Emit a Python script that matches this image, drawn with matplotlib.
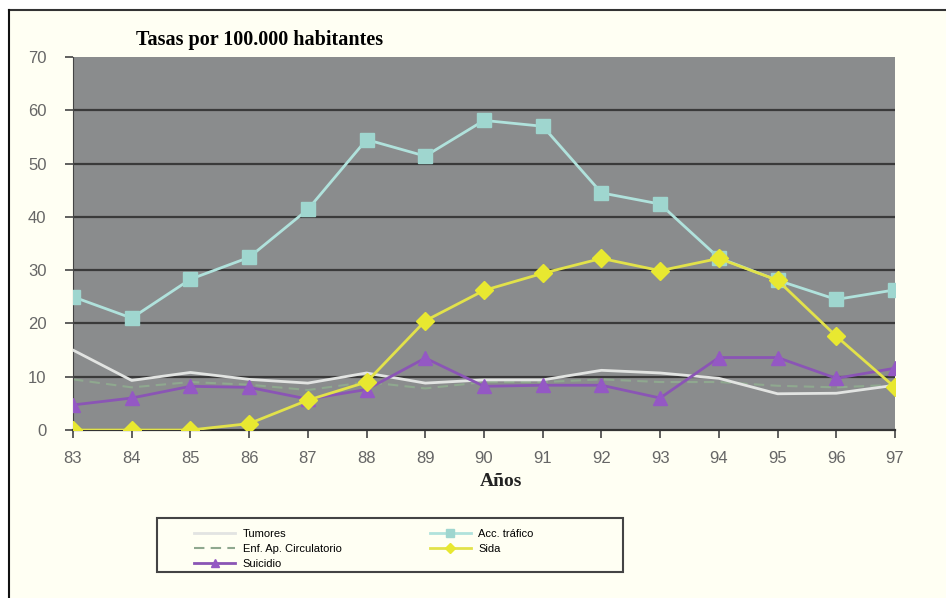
#!/usr/bin/env python3
"""Tasas por 100.000 habitantes, 1983-1997"""

import matplotlib
matplotlib.use("Agg")
import matplotlib.pyplot as plt
from matplotlib.patches import Rectangle
from matplotlib.lines import Line2D

# Data
years = [83, 84, 85, 86, 87, 88, 89, 90, 91, 92, 93, 94, 95, 96, 97]
year_labels = [str(y) for y in years]
tumores = [15, 9.3, 10.8, 9.5, 8.8, 10.7, 8.8, 9.4, 9.4, 11.2, 10.7, 9.7, 6.8, 6.9, 8.4]
enf_circ = [9.5, 8.0, 9.0, 8.5, 7.5, 9.0, 7.8, 9.0, 9.0, 9.5, 9.0, 9.0, 8.3, 8.0, 8.5]
suicidio = [4.7, 6.0, 8.2, 8.0, 5.8, 7.6, 13.5, 8.2, 8.4, 8.4, 6.0, 13.6, 13.6, 9.7, 11.6]
acc_trafico = [25, 21, 28.3, 32.4, 41.4, 54.5, 51.4, 58.1, 57.0, 44.5, 42.4, 32.3, 28.1, 24.5, 26.3]
sida = [0, 0, 0, 1.2, 5.6, 9.0, 20.5, 26.2, 29.4, 32.2, 29.9, 32.2, 28.1, 17.6, 8.0]
y_ticks = [0, 10, 20, 30, 40, 50, 60, 70]

W, H = 946, 598
fig = plt.figure(figsize=(W / 100, H / 100), dpi=100)
fig.patch.set_facecolor("white")

# cream page with frame lines on top and left
fig.patches.append(Rectangle((9 / W, 0), 1 - 9 / W, 1 - 10 / H, transform=fig.transFigure,
                             facecolor="#fffff3", edgecolor="none", zorder=-5))
fig.lines.append(Line2D([9 / W, 1], [1 - 10 / H, 1 - 10 / H], transform=fig.transFigure,
                        color="#333333", lw=1.5, zorder=-4))
fig.lines.append(Line2D([9 / W, 9 / W], [0, 1 - 10 / H], transform=fig.transFigure,
                        color="#111111", lw=1.5, zorder=-4))
# legend frame
fig.patches.append(Rectangle((157 / W, 1 - 572 / H), 466 / W, 54 / H, transform=fig.transFigure,
                             facecolor="none", edgecolor="#444444", lw=1.5, zorder=-3))

ax = fig.add_axes([73 / W, (H - 430) / H, 822 / W, 373 / H])
ax.set_facecolor("#8a8c8d")

# gridlines
for v in y_ticks[1:-1]:
    ax.axhline(v, color="#3a3a3a", lw=1.6, zorder=1)

ax.plot(years, tumores, color="#e2e4e2", lw=2, label="Tumores", zorder=3)
ax.plot(years, enf_circ, color="#8fa88f", lw=1.5, ls=(0, (5, 3)),
        label="Enf. Ap. Circulatorio", zorder=2)
ax.plot(years, suicidio, color="#8a55b5", lw=2, marker="^", markersize=10,
        markerfacecolor="#9458c4", markeredgecolor="#9458c4", label="Suicidio", zorder=4)
ax.plot(years, acc_trafico, color="#b0e2dc", lw=2, marker="s", markersize=10,
        markerfacecolor="#9fd6cf", markeredgecolor="#9fd6cf", label="Acc. tráfico", zorder=4)
ax.plot(years, sida, color="#e2e24a", lw=2, marker="D", markersize=9,
        markerfacecolor="#e8e830", markeredgecolor="#e8e830", label="Sida", zorder=5)

ax.set_xlim(83, 97)
ax.set_ylim(0, 70)
ax.set_xticks(years)
ax.set_xticklabels(year_labels)
ax.set_yticks(y_ticks)
for s in ["top", "right"]:
    ax.spines[s].set_visible(False)
ax.spines["left"].set_color("#444444")
ax.spines["bottom"].set_color("#333333")
ax.spines["bottom"].set_linewidth(1.6)
ax.tick_params(axis="both", direction="out", length=6, width=1.2, color="#444444",
               labelcolor="#666666", labelsize=12)
ax.tick_params(axis="y", pad=13)
ax.tick_params(axis="x", pad=9)
for lbl in ax.get_xticklabels() + ax.get_yticklabels():
    lbl.set_family("Liberation Sans")

ax.set_xlabel("Años", fontsize=14, fontweight="bold", family="Liberation Serif",
              color="#222222")
ax.xaxis.set_label_coords((501 - 73) / 822, (430 - 481) / 373)
ax.xaxis.label.set_va("center")
fig.text(260 / W, 1 - 40 / H, "Tasas por 100.000 habitantes", ha="center", va="center",
         fontsize=14.5, fontweight="bold", family="Liberation Serif")

leg = fig.legend(loc="upper left", bbox_to_anchor=(194 / W, 1 - 529 / H),
                 ncol=2, frameon=False, borderpad=0, borderaxespad=0,
                 handlelength=3.7, handletextpad=0.7, columnspacing=7.9,
                 labelspacing=0.45, markerscale=0.6,
                 prop={"family": "Liberation Sans", "size": 8})

plt.savefig("out.png", dpi=100)
